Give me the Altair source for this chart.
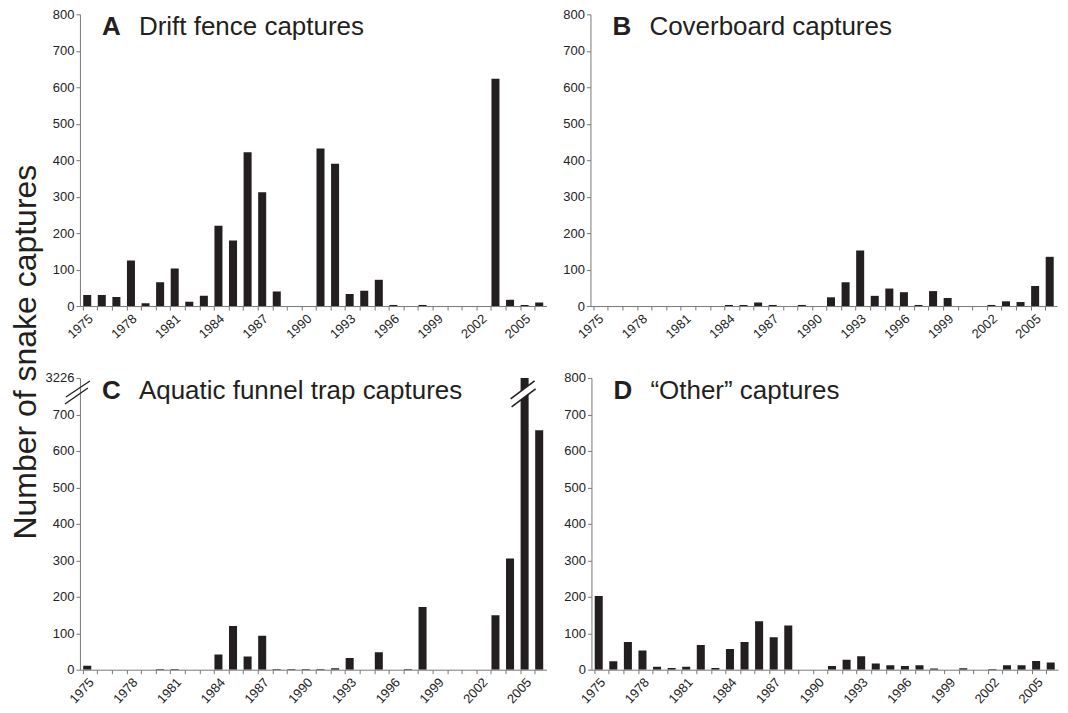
import altair as alt
import pandas as pd

years = list(range(1975, 2007))
drift_fence = [30, 30, 25, 125, 8, 65, 103, 12, 28, 220, 180, 422, 312, 40, 0, 0,
               432, 390, 33, 42, 72, 3, 0, 3, 0, 0, 0, 0, 623, 17, 3, 10]
coverboard = [0, 0, 0, 0, 0, 0, 0, 0, 0, 3, 3, 10, 3, 0, 3, 0,
              24, 65, 152, 28, 48, 38, 3, 41, 22, 0, 0, 3, 13, 11, 55, 135]
funnel_trap = [11, 0, 0, 0, 0, 2, 2, 0, 0, 42, 120, 36, 93, 2, 2, 2,
               2, 4, 32, 0, 48, 0, 2, 172, 0, 0, 0, 0, 149, 305, 3226, 657]
other = [202, 23, 76, 53, 8, 5, 8, 68, 5, 57, 76, 133, 89, 121, 0, 0,
         10, 27, 37, 17, 12, 10, 12, 3, 0, 4, 0, 2, 12, 12, 24, 20]

panel_letters = ["A", "B", "C", "D"]
panel_titles = ["Drift fence captures", "Coverboard captures",
                "Aquatic funnel trap captures", "\u201cOther\u201d captures"]
y_title = "Number of snake captures"
label_years = list(range(1975, 2007, 3))
y_ticks = list(range(0, 801, 100))
break_label = "3226"

W, H = 467, 292
FONT = "Liberation Sans"
INK = "#231f20"

label_list = "[" + ",".join(str(v) for v in label_years) + "]"


def panel(values, letter, title, angle, broken=False):
    df = pd.DataFrame({"year": years, "count": values})
    ylab = (f"datum.value == 800 ? '{break_label}' : datum.label") if broken else "datum.label"
    bars = alt.Chart(df).mark_bar(color=INK, clip=True).encode(
        x=alt.X("year:O",
                scale=alt.Scale(paddingInner=0.45, paddingOuter=0.225),
                axis=alt.Axis(title=None, labelAngle=angle, bandPosition=0,
                              labelAlign="right", labelBaseline="top",
                              labelOverlap=False, labelPadding=2,
                              labelExpr=f"indexof({label_list}, datum.value) >= 0 ? datum.label : ''")),
        y=alt.Y("count:Q", scale=alt.Scale(domain=[0, 800], nice=False),
                axis=alt.Axis(title=None, values=y_ticks, labelExpr=ylab)),
    )
    t1 = alt.Chart(alt.Data(values=[{"t": letter}])).mark_text(
        font=FONT, fontSize=26, fontWeight="bold", align="left",
        baseline="alphabetic", color=INK).encode(
        x=alt.value(22), y=alt.value(21), text="t:N")
    t2 = alt.Chart(alt.Data(values=[{"t": title}])).mark_text(
        font=FONT, fontSize=26, align="left",
        baseline="alphabetic", color=INK).encode(
        x=alt.value(59), y=alt.value(21), text="t:N")
    layers = [bars, t1, t2]
    if broken:
        xc = W * (30.5 / 32)
        one = alt.Data(values=[{"k": 1}])

        def seg(x1, y1, x2, y2, color, sw):
            return alt.Chart(one).mark_rule(color=color, strokeWidth=sw).encode(
                x=alt.value(x1), y=alt.value(y1), x2=alt.value(x2), y2=alt.value(y2))
        # break on the tall bar
        layers += [
            seg(xc - 14, 25, xc + 10, 7, "white", 7),
            seg(xc - 14, 21, xc + 10, 3, INK, 1.6),
            seg(xc - 13, 29, xc + 11, 11, INK, 1.6),
        ]
        # break on the axis
        layers += [
            seg(-14, 19, 10, 3, INK, 1.4),
            seg(-15, 26, 8, 10, INK, 1.4),
        ]
    return alt.layer(*layers).properties(width=W, height=H)


a = panel(drift_fence, panel_letters[0], panel_titles[0], -42)
b = panel(coverboard, panel_letters[1], panel_titles[1], -42)
c = panel(funnel_trap, panel_letters[2], panel_titles[2], -48, broken=True)
d = panel(other, panel_letters[3], panel_titles[3], -48)

chart = alt.vconcat(
    alt.hconcat(a, b, spacing=15),
    alt.hconcat(c, d, spacing=15),
    spacing=30,
).properties(
    title=alt.TitleParams(y_title, orient="left", anchor="middle", fontSize=32,
                          font=FONT, fontWeight="normal", color=INK, offset=2, dx=5),
    padding={"left": 2, "top": 0, "right": 0, "bottom": 0},
).configure_view(stroke=None).configure_axis(
    domainColor="#777777", tickColor="#777777", tickSize=4,
    labelFont=FONT, labelFontSize=13, labelColor="#222222", grid=False,
)

chart.save("out.html", embed_options={"renderer": "svg", "actions": False})
